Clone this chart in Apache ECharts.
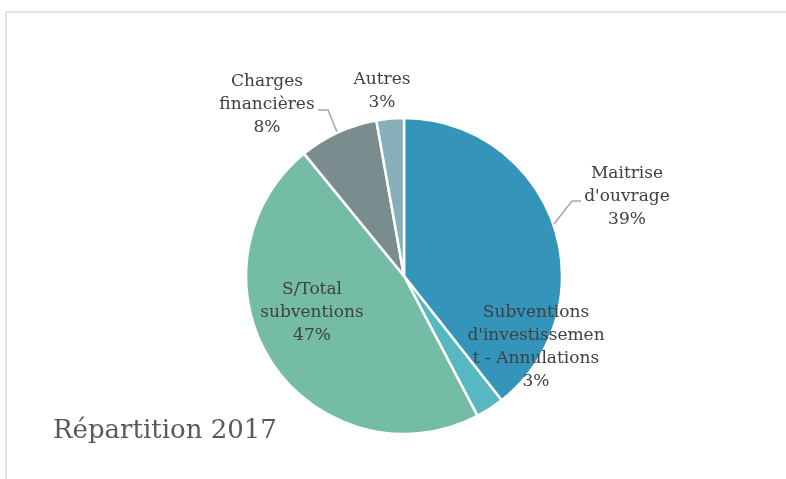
<!DOCTYPE html>
<html>
<head>
<meta charset="utf-8">
<script src="https://cdn.jsdelivr.net/npm/echarts@6/dist/echarts.min.js"></script>
<style>html,body{margin:0;padding:0;background:#fff}#c{width:786px;height:479px}</style>
</head>
<body>
<div id="c"></div>
<script>
const categories = ["Maitrise d'ouvrage", "Subventions d'investissement - Annulations", "S/Total subventions", "Charges financières", "Autres"];
const labelTexts = ["Maitrise\nd'ouvrage", "Subventions\nd'investissemen\nt - Annulations", "S/Total\nsubventions", "Charges\nfinancières", "Autres"];
const values = [39.4, 2.9, 46.8, 8.1, 2.8];
const colors = ['#3594ba', '#58b8c2', '#75bca6', '#7a8c8d', '#86afb9'];
const titleText = 'Répartition 2017';

// label layout (positions of label blocks and leader lines)
const labelLayouts = [
  { x: 627, y: 197, line: [[554, 224], [572, 201], [581, 201]] },
  { x: 536, y: 347 },
  { x: 312, y: 313 },
  { x: 267, y: 105, line: [[337, 132], [328, 110], [318, 110]] },
  { x: 382, y: 91 }
];

const data = categories.map((c, i) => ({
  name: c,
  value: values[i],
  itemStyle: { color: colors[i] },
  label: { formatter: labelTexts[i] + '\n{d}%' },
  labelLine: { show: !!labelLayouts[i].line }
}));

const chart = echarts.init(document.getElementById('c'));
chart.setOption({
  animation: false,
  title: {
    text: titleText,
    left: 48,
    top: 413,
    textStyle: { fontFamily: 'DejaVu Serif', fontSize: 26, fontWeight: 'normal', color: '#595959' }
  },
  graphic: [
    { type: 'line', shape: { x1: 6, y1: 12, x2: 786, y2: 12 }, style: { stroke: '#d9d9d9', lineWidth: 1.5 } },
    { type: 'line', shape: { x1: 6, y1: 12, x2: 6, y2: 479 }, style: { stroke: '#d9d9d9', lineWidth: 1.5 } }
  ],
  series: [{
    type: 'pie',
    center: [404, 276],
    radius: 158,
    startAngle: 90,
    clockwise: true,
    percentPrecision: 0,
    itemStyle: { borderColor: '#fff', borderWidth: 2.5 },
    label: {
      show: true,
      position: 'outside',
      fontFamily: 'DejaVu Serif',
      fontSize: 17,
      lineHeight: 23,
      color: '#404040',
      align: 'center'
    },
    labelLine: { show: true, lineStyle: { color: '#a6a6a6', width: 1.5 } },
    labelLayout: function (params) {
      const L = labelLayouts[params.dataIndex];
      const r = { x: L.x, y: L.y, align: 'center', verticalAlign: 'middle' };
      if (L.line) r.labelLinePoints = L.line;
      return r;
    },
    data: data
  }]
});
</script>
</body>
</html>
